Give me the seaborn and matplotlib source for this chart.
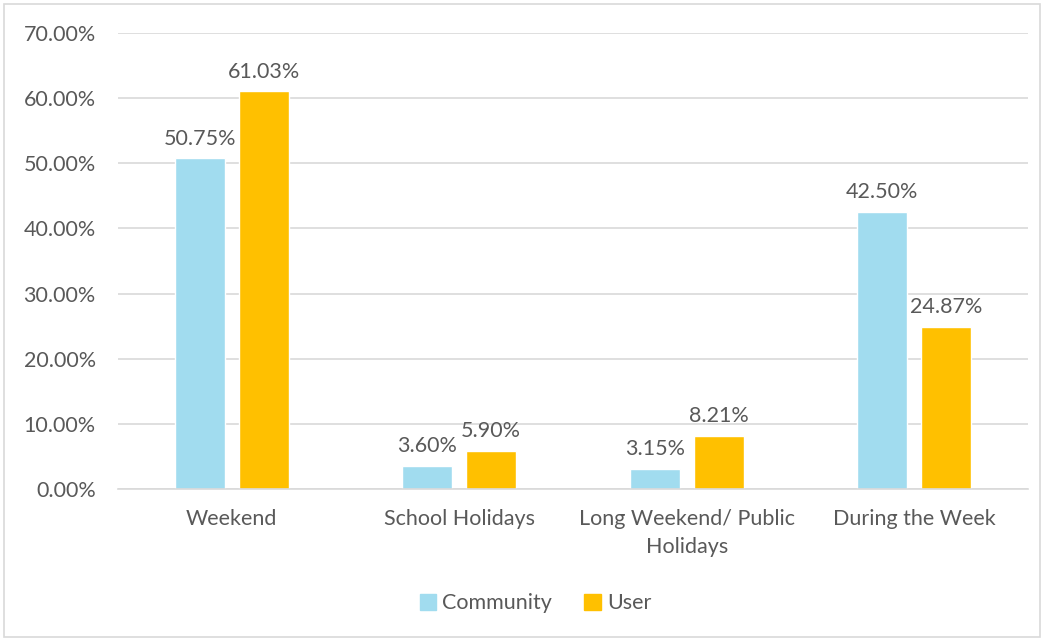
import matplotlib
matplotlib.use("Agg")
import matplotlib.pyplot as plt
import pandas as pd
import seaborn as sns
from matplotlib.patches import Rectangle
from matplotlib.ticker import FuncFormatter

# ---- data ----
CATEGORIES = ['Weekend', 'School Holidays', 'Long Weekend/ Public\nHolidays', 'During the Week']
COMMUNITY = [50.75, 3.60, 3.15, 42.50]
USER = [61.03, 5.90, 8.21, 24.87]
SERIES = ['Community', 'User']
COLORS = ['#A1DCEF', '#FFC000']
TEXT_COLOR = '#595959'

df = pd.DataFrame({
    'category': CATEGORIES * 2,
    'series': ['Community'] * len(CATEGORIES) + ['User'] * len(CATEGORIES),
    'value': COMMUNITY + USER,
})

sns.set_style('white')
plt.rcParams['font.family'] = ['Lato', 'DejaVu Sans']
FS = 15.5

fig = plt.figure(figsize=(10.46, 6.41), dpi=100)
ax = fig.add_axes([0.1128, 0.237, 0.870, 0.7115])

sns.barplot(data=df, x='category', y='value', hue='series', hue_order=SERIES,
            palette=COLORS, width=0.5625, gap=0.22, ax=ax, legend=False,
            saturation=1)

for cont in ax.containers:
    ax.bar_label(cont, fmt='%.2f%%', padding=7, fontsize=FS, color=TEXT_COLOR)

ax.set_ylim(0, 70)
ax.set_yticks(range(0, 71, 10))
ax.yaxis.set_major_formatter(FuncFormatter(lambda v, p: f'{v:.2f}%'))
ax.grid(axis='y', color='#D9D9D9', linewidth=1.2)
ax.set_axisbelow(True)
for s in ['top', 'right', 'left']:
    ax.spines[s].set_visible(False)
ax.spines['bottom'].set_color('#D9D9D9')
ax.spines['bottom'].set_linewidth(1.2)
ax.tick_params(axis='both', length=0, labelsize=FS, labelcolor=TEXT_COLOR)
ax.tick_params(axis='y', pad=16)
ax.tick_params(axis='x', pad=14)
for t in ax.get_xticklabels():
    t.set_linespacing(1.55)
ax.set_xlabel('')
ax.set_ylabel('')

handles = [Rectangle((0, 0), 1, 1, color=c) for c in COLORS]
fig.legend(handles, SERIES, loc='center', bbox_to_anchor=(0.512, 0.059), ncol=2,
           frameon=False, fontsize=FS, labelcolor=TEXT_COLOR,
           handlelength=0.75, handleheight=0.75, handletextpad=0.3, columnspacing=1.5)

# outer border
fig.patches.append(Rectangle((0.004, 0.006), 0.99, 0.988, transform=fig.transFigure,
                             fill=False, edgecolor='#D9D9D9', linewidth=1.2))

fig.savefig('out.png', dpi=100)
